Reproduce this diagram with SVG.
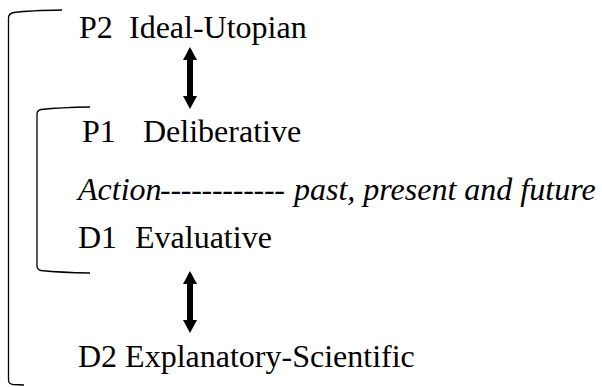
<svg xmlns="http://www.w3.org/2000/svg" width="602" height="387" viewBox="0 0 602 387">
<style>
.t{font-family:'Liberation Serif',Tinos,'Times New Roman',serif;font-size:32px;fill:#000}
.i{font-style:italic}
.br{fill:none;stroke:#000;stroke-width:1.3}
.ar{fill:#000;stroke:none}
</style>
<rect width="602" height="387" fill="#fff"/>
<g id="brackets">
<path class="br" d="M62,10 Q30,10.5 14,12.5 Q8.5,13.5 8.5,18 L8.5,380 Q8.5,384 13,384.5 L24,385"/>
<path class="br" d="M90,107 Q60,107.5 41,109.5 Q37,110.5 37,114 L37,266 Q37,269.5 41,270.5 Q60,272.5 90,273"/>
</g>
<g id="connectors">
<polygon class="ar" points="190,47 197,60 193,60 193,96 197,96 190,109 183,96 187,96 187,60 183,60"/>
<polygon class="ar" points="190,271 197,284 193,284 193,320 197,320 190,333 183,320 187,320 187,284 183,284"/>
</g>
<g id="p2"><text class="t" x="79" y="38">P2</text><text class="t" x="129" y="38">Ideal-Utopian</text></g>
<g id="p1"><text class="t" x="82" y="142">P1</text><text class="t" x="143" y="142">Deliberative</text></g>
<g id="action"><text class="t i" x="78" y="200">Action</text><text class="t" x="160" y="200" textLength="125" lengthAdjust="spacing">------------</text><text class="t i" x="294" y="200">past, present and future</text></g>
<g id="d1"><text class="t" x="78" y="248">D1</text><text class="t" x="135" y="248">Evaluative</text></g>
<g id="d2"><text class="t" x="78" y="367">D2 Explanatory-Scientific</text></g>
</svg>
